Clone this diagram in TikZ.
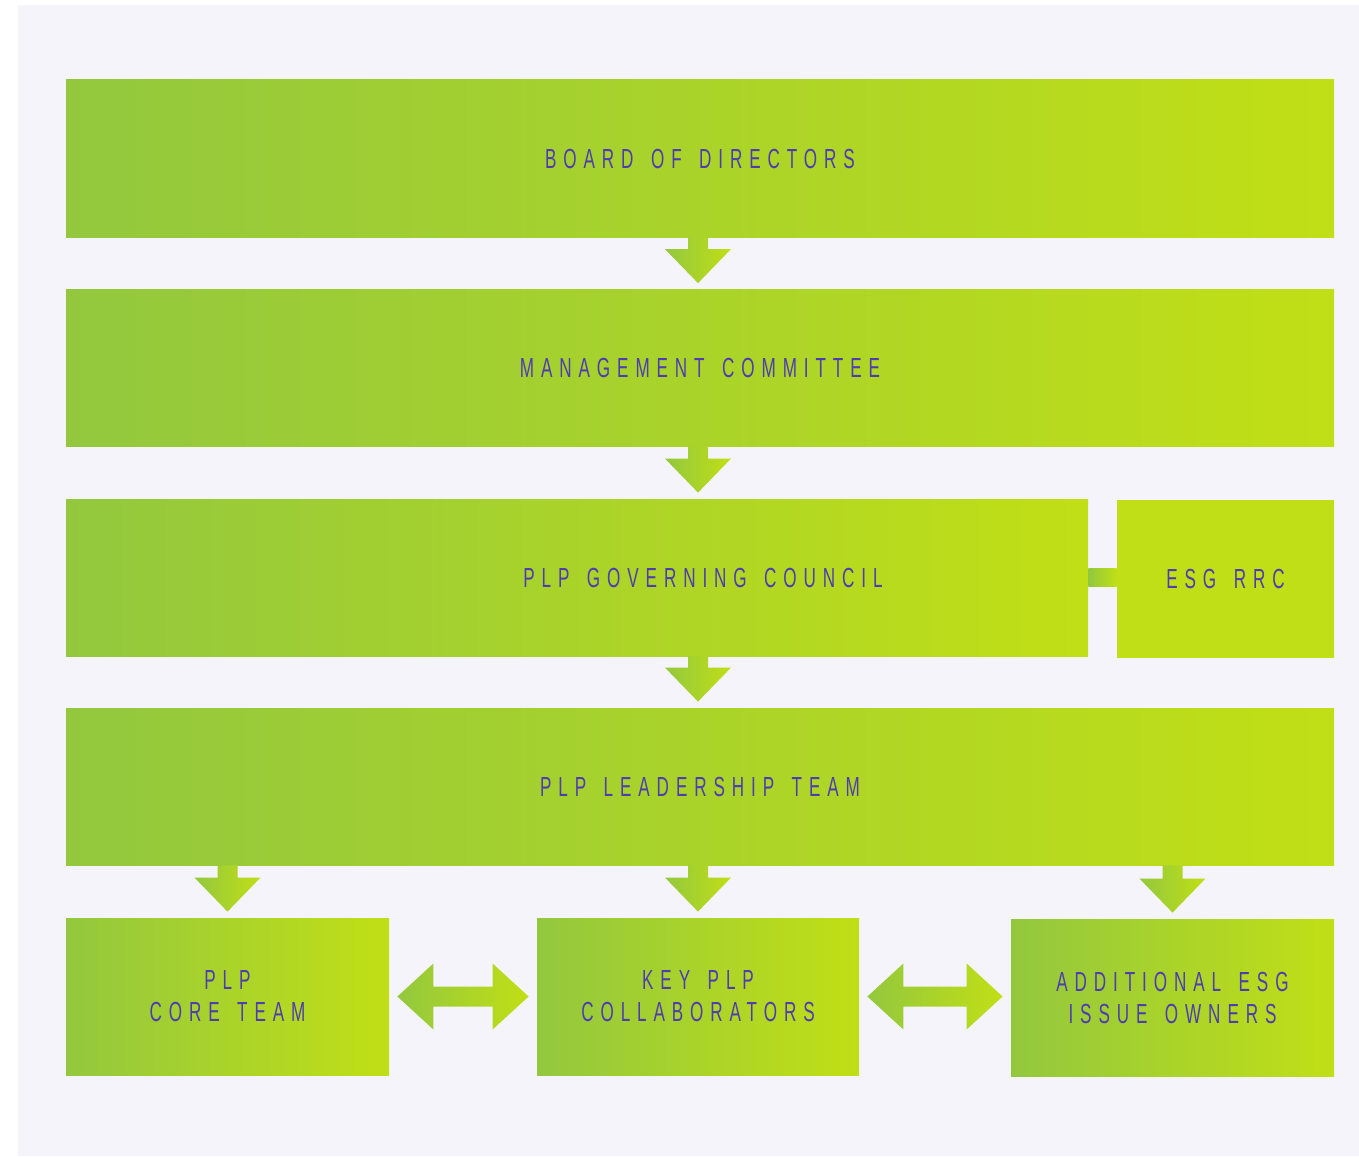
\documentclass[tikz,border=0pt]{standalone}
\usepackage{fontspec}
\usepackage{tikz}
\usetikzlibrary{calc}
\newfontfamily\orgfont{Liberation Sans}[FakeStretch=0.62,LetterSpace=25,WordSpace=1.5]
\definecolor{plpgreen}{HTML}{93C83E}
\definecolor{plplime}{HTML}{C1DF16}
\definecolor{plpbg}{HTML}{F4F4FA}
\definecolor{plpink}{HTML}{4F3DB0}

% down arrow from a point to the top of a node
\newcommand\vflow[2]{%
\coordinate (ft) at (#1);
\coordinate (fb) at ($(ft |- #2.north)+(0,-6)$);
\shade[flow] ($(ft)+(-10,0)$) -- ($(ft)+(10,0)$) -- ($(fb)+(10,-34)$)
-- ($(fb)+(33,-34)$) -- (fb) -- ($(fb)+(-33,-34)$) -- ($(fb)+(-10,-34)$) -- cycle;}

% two-way arrow between two nodes
\newcommand\hflow[2]{%
\coordinate (fl) at ($(#1.east)+(8,0)$);
\coordinate (fr) at ($(fl -| #2.west)+(-8,0)$);
\shade[flow] (fl) -- ($(fl)+(36,-33)$) -- ($(fl)+(36,-10)$) -- ($(fr)+(-36,-10)$)
-- ($(fr)+(-36,-33)$) -- (fr) -- ($(fr)+(-36,33)$) -- ($(fr)+(-36,10)$)
-- ($(fl)+(36,10)$) -- ($(fl)+(36,33)$) -- cycle;}

\begin{document}
\begin{tikzpicture}[x=0.5pt, y=-0.5pt,
orgbox/.style={rectangle, inner sep=0pt, minimum height=78.5pt, align=center,
left color=plpgreen, right color=plplime, text=plpink,
font=\orgfont\fontsize{13.8pt}{16pt}\selectfont},
flow/.style={left color=plpgreen, right color=plplime}]
\useasboundingbox (0,0) rectangle (1359,1156);
\fill [plpbg] (18,5) rectangle (1359,1156);

\node [orgbox, minimum width=634pt] (board) at (700,158.5) {BOARD OF DIRECTORS};
\node [orgbox, minimum width=634pt] (mgmt) at (700,368) {MANAGEMENT COMMITTEE};
\node [orgbox, minimum width=511pt] (council) at (577,577.5) {\hspace*{126pt}PLP GOVERNING COUNCIL};
\node [orgbox, minimum width=108.5pt, left color=plplime] (esg) at (1225.5,579) {ESG RRC};
\node [orgbox, minimum width=634pt] (lead) at (700,786.5) {PLP LEADERSHIP TEAM};
\node [orgbox, minimum width=161.5pt] (core) at (227.5,996.5) {PLP\\CORE TEAM};
\node [orgbox, minimum width=161pt] (key) at (698,996.5) {KEY PLP\\COLLABORATORS};
\node [orgbox, minimum width=161.5pt] (addl) at (1172.5,997.5) {ADDITIONAL ESG\\ISSUE OWNERS};

\vflow{board.south -| key}{mgmt}
\vflow{mgmt.south -| key}{council}
\vflow{council.south -| key}{lead}
\vflow{lead.south -| core}{core}
\vflow{lead.south -| key}{key}
\vflow{lead.south -| addl}{addl}

\shade [flow] ($(council.east)+(0,-9)$) rectangle ($(council.east -| esg.west)+(0,9)$);

\hflow{core}{key}
\hflow{key}{addl}
\end{tikzpicture}
\end{document}
